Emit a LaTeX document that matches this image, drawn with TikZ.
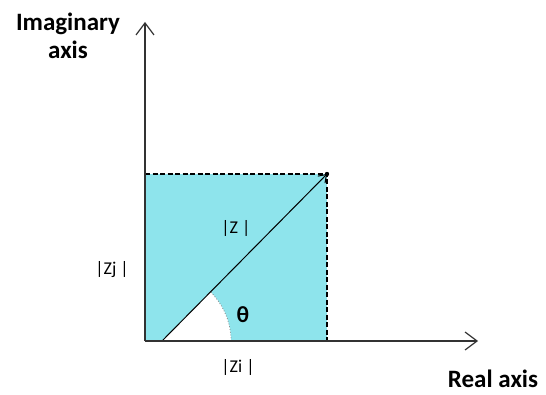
\documentclass[tikz,border=0pt]{standalone}
\usepackage{fontspec}
\setmainfont{Carlito}
\usetikzlibrary{arrows.meta}
\definecolor{planefill}{RGB}{142,228,236}
\definecolor{axisgray}{RGB}{50,50,50}
\tikzset{
  axis/.style={line width=1.3pt, draw=axisgray, -{Straight Barb[length=12pt,width=18pt,line width=1.2pt]}},
  guide/.style={line width=1.4pt, dash pattern=on 5pt off 2.5pt},
  axislabel/.style={font=\fontsize{25}{28}\selectfont\bfseries, inner sep=0pt},
  modlabel/.style={font=\fontsize{18}{22}\selectfont, inner sep=0pt}
}
\begin{document}
\begin{tikzpicture}[x=1pt,y=1pt]
\useasboundingbox (0,0) rectangle (546,394);
% plane and point
\coordinate (origin) at (145,53);
\coordinate (start) at (162,53);
\coordinate (point) at (327,220);
\coordinate (ytop) at (145,372);
\coordinate (xend) at (478,53);
\coordinate (ymark) at (145,220);
\coordinate (xmark) at (327,53);
\coordinate (arcend) at (231,53);
\fill[planefill] (origin) rectangle (point);
\fill[white] (start) -- (arcend) arc[start angle=0, end angle=45.34, radius=69] -- cycle;
\draw[dotted, line width=0.8pt, gray] (arcend) arc[start angle=0, end angle=45.34, radius=69];
\draw[guide] (ymark) -- (point) -- (xmark);
\draw[line width=1pt, -{Straight Barb[length=7pt,width=10pt]}] (start) -- (point);
\fill (point) circle (2.2pt);
% axes
\draw[axis] (origin) -- (ytop);
\draw[axis] (origin) -- (xend);
% labels
\node[axislabel, align=center] (imlabel) at (68,358) {Imaginary\\axis};
\node[axislabel, anchor=base] (relabel) at (493,7) {Real axis};
\node[modlabel] (zmod) at (236,166) {|Z |};
\node[modlabel] (zj) at (112,124) {|Zj |};
\node[modlabel] (zi) at (238,27) {|Zi |};
\node[font=\fontsize{23}{26}\selectfont\bfseries, inner sep=0pt] (theta) at (243,79) {θ};
\end{tikzpicture}
\end{document}
